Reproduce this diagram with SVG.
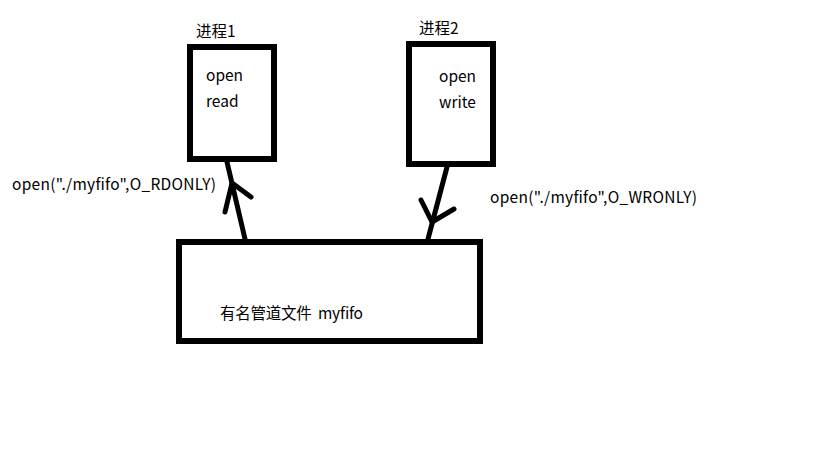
<svg xmlns="http://www.w3.org/2000/svg" width="819" height="460" viewBox="0 0 819 460">
<style>
.box{fill:#fff;stroke:#000;stroke-width:6}
.t{font-family:"Noto Sans CJK SC","Open Sans",sans-serif;font-size:15.5px;fill:#000}
.c{fill:none;stroke:#000;stroke-width:5;stroke-linecap:round;stroke-linejoin:round}
</style>
<rect width="819" height="460" fill="#fff"/>
<g id="proc1">
<text class="t" x="196" y="37">进程1</text>
<rect class="box" x="190" y="47" width="84" height="112"/>
<text class="t" x="206" y="81">open</text>
<text class="t" x="206" y="107">read</text>
</g>
<g id="proc2">
<text class="t" x="419" y="34">进程2</text>
<rect class="box" x="409" y="44" width="84" height="120"/>
<text class="t" x="439" y="82">open</text>
<text class="t" x="439" y="108">write</text>
</g>
<g id="fifo">
<rect class="box" x="179" y="242" width="301" height="99"/>
<text class="t" x="220" y="319" textLength="143" xml:space="preserve">有名管道文件  myfifo</text>
</g>
<g id="connectors">
<path class="c" d="M245,239 L227,162"/>
<path class="c" d="M225,212 L232,183 L251,197"/>
<text class="t" x="12" y="190" textLength="204">open("./myfifo",O_RDONLY)</text>
<path class="c" d="M447,167 L428,239"/>
<path class="c" d="M421,200 L432,222 L454,209"/>
<text class="t" x="490" y="203" textLength="207">open("./myfifo",O_WRONLY)</text>
</g>
</svg>
